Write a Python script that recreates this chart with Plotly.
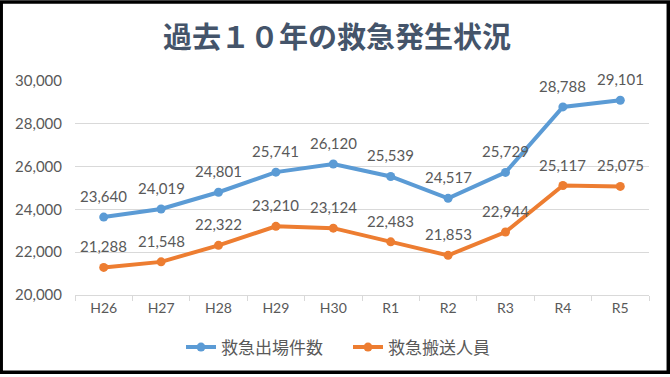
import plotly.graph_objects as go

categories = ["H26", "H27", "H28", "H29", "H30", "R1", "R2", "R3", "R4", "R5"]
dispatches = [23640, 24019, 24801, 25741, 26120, 25539, 24517, 25729, 28788, 29101]
transported = [21288, 21548, 22322, 23210, 23124, 22483, 21853, 22944, 25117, 25075]
series_names = ["救急出場件数", "救急搬送人員"]
title_text = "過去１０年の救急発生状況"
y_ticks = [20000, 22000, 24000, 26000, 28000, 30000]

BLUE = "#5B9BD5"
ORANGE = "#ED7D31"
GREY = "#595959"
FONT = "Lato, 'Noto Sans CJK JP', sans-serif"

fig = go.Figure()
for name, vals, col in [(series_names[0], dispatches, BLUE), (series_names[1], transported, ORANGE)]:
    fig.add_trace(go.Scatter(
        x=categories, y=vals, name=name, mode="lines+markers",
        line=dict(color=col, width=4),
        marker=dict(color=col, size=9),
    ))
    for c, v in zip(categories, vals):
        fig.add_annotation(x=c, y=v, text=f"{v:,}", showarrow=False,
                           yshift=21, font=dict(family=FONT, size=15, color=GREY))

L, R, T, B = 75, 21, 81, 80
W, H = 670, 377
pw, ph = W - L - R, H - T - B

def px_x(p):
    return (p - L) / pw

def px_y(p):
    return (H - B - p) / ph

fig.add_shape(type="rect", xref="paper", yref="paper",
              x0=px_x(1.2), x1=px_x(668.3), y0=px_y(375), y1=px_y(1.2),
              line=dict(color="black", width=3.5), fillcolor="rgba(0,0,0,0)")

fig.update_layout(
    width=W, height=H,
    margin=dict(l=L, r=R, t=T, b=B),
    paper_bgcolor="white", plot_bgcolor="white",
    title=dict(text=title_text, xref="container", yref="container",
               x=337 / W, xanchor="center", y=1 - 38 / H, yanchor="middle",
               font=dict(family="'Noto Sans CJK JP', sans-serif", size=29, color="#44546A", weight="bold")),
    font=dict(family=FONT, color=GREY),
    showlegend=True,
    legend=dict(orientation="h", x=px_x(348), xanchor="center", y=px_y(350), yanchor="middle",
                font=dict(family="'Noto Sans CJK JP', sans-serif", size=17, color=GREY),
                itemwidth=30, entrywidth=122),
    xaxis=dict(type="category", showgrid=False, showline=True, linecolor="#D9D9D9", linewidth=1,
               ticks="outside", tickson="boundaries", ticklen=5, tickcolor="#D9D9D9",
               tickfont=dict(family=FONT, size=14, color=GREY), range=[-0.5, 9.5]),
    yaxis=dict(range=[20000, 30000], tickvals=y_ticks, tickformat=",", showgrid=True,
               gridcolor="#D9D9D9", gridwidth=1, zeroline=False, showline=False,
               ticks="", ticklabelstandoff=12,
               tickfont=dict(family=FONT, size=15, color=GREY)),
)

fig.write_html("out.html", config={"displayModeBar": False},
               post_script="document.body.style.margin='0';document.body.style.overflow='hidden';")
